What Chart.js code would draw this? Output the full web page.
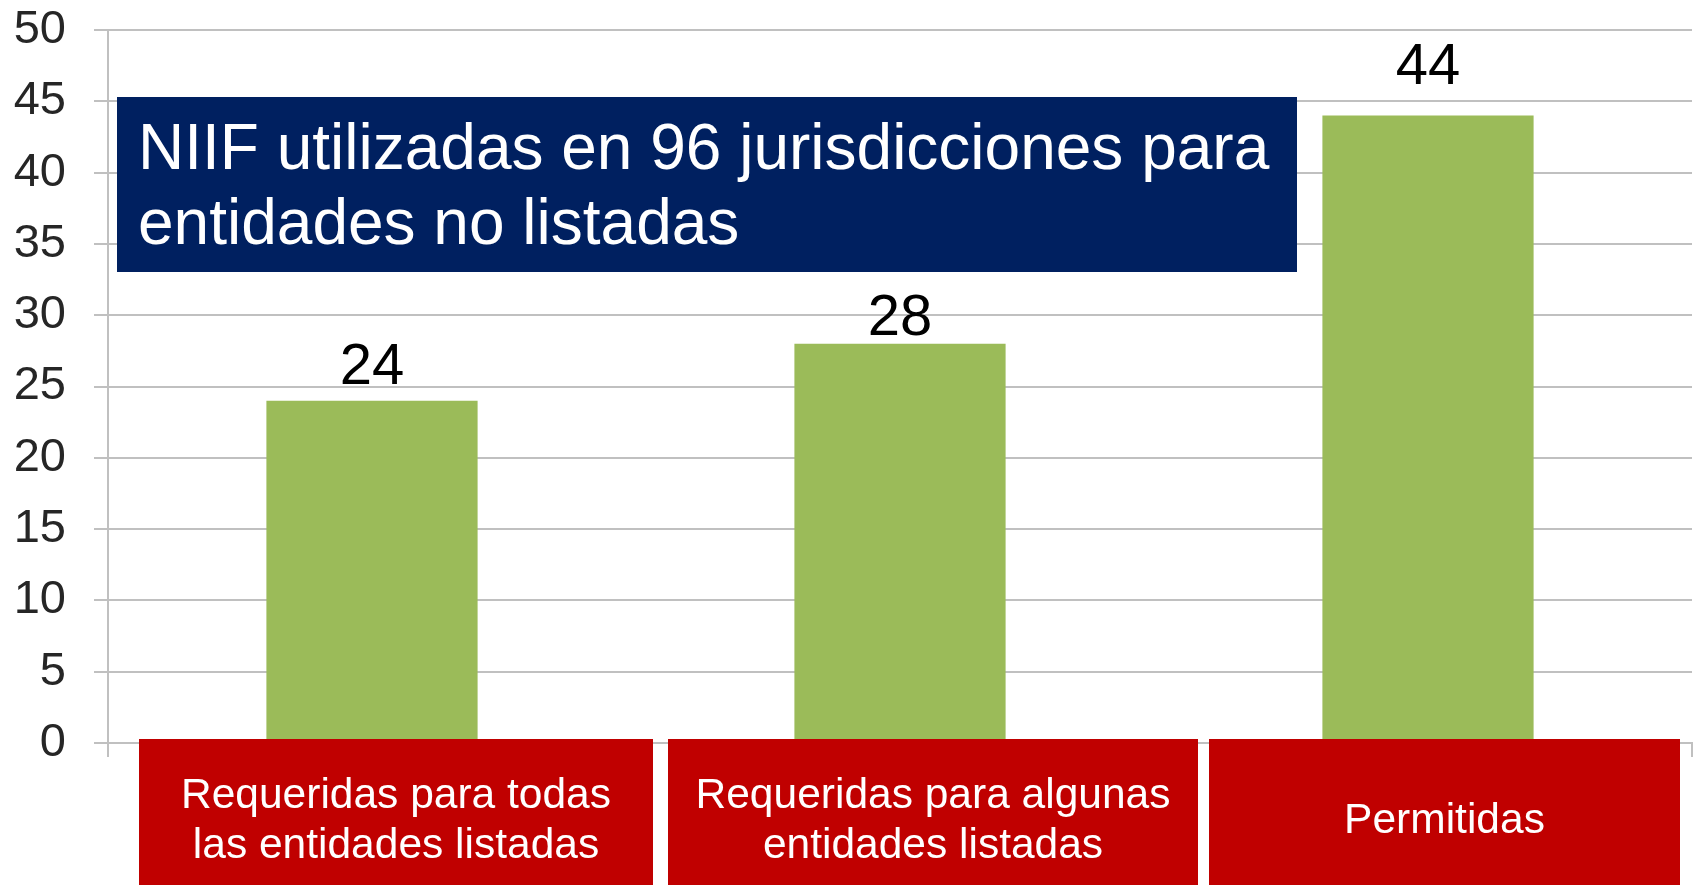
<!DOCTYPE html>
<html>
<head>
<meta charset="utf-8">
<script src="https://cdn.jsdelivr.net/npm/chart.js@4/dist/chart.umd.min.js"></script>
<style>
  html, body { margin: 0; padding: 0; background: #fff; overflow: hidden; }
</style>
</head>
<body>
<canvas id="chart" width="1698" height="885"></canvas>
<script>
// chart data
const categories = [
  ['Requeridas para todas', 'las entidades listadas'],
  ['Requeridas para algunas', 'entidades listadas'],
  ['Permitidas']
];
const values = [24, 28, 44];
const yMin = 0;
const yMax = 50;
const yStep = 5;
const titleLines = ['NIIF utilizadas en 96 jurisdicciones para', 'entidades no listadas'];

const FONT = "'Liberation Sans', Arial, sans-serif";
const gridColor = '#C0C0C0';

// value labels sit a little above each bar (hand placed in the original)
const labelLift = [17, 9, 32];

// red category boxes under the axis
const catBoxes = [
  { x: 139, w: 514 },
  { x: 668, w: 530 },
  { x: 1209, w: 471 }
];

const overlays = {
  id: 'overlays',
  afterDraw(chart) {
    const ctx = chart.ctx;
    ctx.save();

    // value labels
    const meta = chart.getDatasetMeta(0);
    ctx.fillStyle = '#000';
    ctx.font = '58px ' + FONT;
    ctx.textAlign = 'center';
    ctx.textBaseline = 'alphabetic';
    meta.data.forEach((bar, i) => {
      ctx.fillText(String(values[i]), bar.x, bar.y - labelLift[i]);
    });

    // title box
    ctx.fillStyle = '#002060';
    ctx.fillRect(117, 97, 1180, 175);
    ctx.fillStyle = '#fff';
    ctx.font = '64px ' + FONT;
    ctx.textAlign = 'left';
    ctx.fillText(titleLines[0], 138, 169);
    ctx.fillText(titleLines[1], 138, 244);

    // category boxes
    ctx.font = '42.5px ' + FONT;
    ctx.textAlign = 'center';
    catBoxes.forEach((b, i) => {
      ctx.fillStyle = '#C00000';
      ctx.fillRect(b.x, 739, b.w, chart.height - 739);
      ctx.fillStyle = '#fff';
      const lines = categories[i];
      lines.forEach((t, j) => {
        const y = 833 + (j - (lines.length - 1) / 2) * 50;
        ctx.fillText(t, b.x + b.w / 2, y);
      });
    });

    ctx.restore();
  }
};

new Chart(document.getElementById('chart'), {
  type: 'bar',
  data: {
    labels: categories,
    datasets: [{
      data: values,
      backgroundColor: '#9BBB59',
      borderWidth: 0,
      barPercentage: 0.4,
      categoryPercentage: 1
    }]
  },
  options: {
    responsive: false,
    animation: false,
    layout: { padding: { left: 0, right: 6, top: 30, bottom: 142 } },
    plugins: {
      legend: { display: false },
      tooltip: { enabled: false }
    },
    scales: {
      x: {
        ticks: { display: false },
        grid: {
          drawOnChartArea: false,
          drawTicks: true,
          tickLength: 14,
          color: gridColor,
          lineWidth: 2,
          offset: true
        },
        border: { color: gridColor, width: 2 },
        afterFit: s => { s.height = 0; s.paddingLeft = 0; s.paddingRight = 0; }
      },
      y: {
        min: yMin,
        max: yMax,
        ticks: {
          stepSize: yStep,
          color: '#262626',
          padding: 28,
          font: { family: FONT, size: 47 }
        },
        grid: { color: gridColor, lineWidth: 2, tickLength: 14 },
        border: { color: gridColor, width: 2 },
        afterFit: s => { s.width = 108; s.paddingTop = 0; s.paddingBottom = 0; }
      }
    }
  },
  plugins: [overlays]
});
</script>
</body>
</html>
